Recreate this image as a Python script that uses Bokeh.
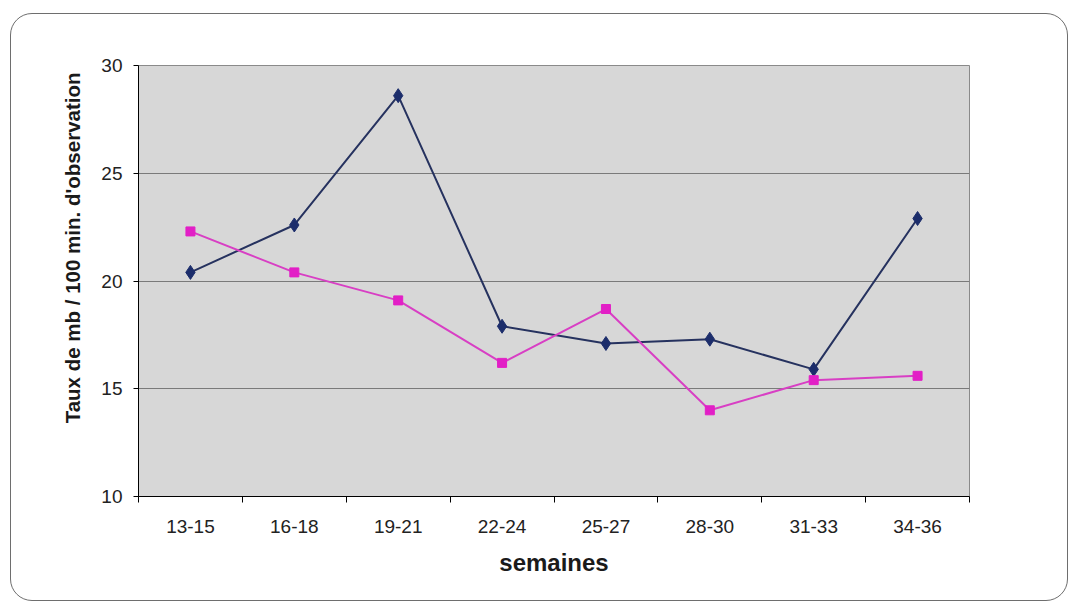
from bokeh.plotting import figure
from bokeh.models import Range1d, FixedTicker, Title, InlineStyleSheet
from bokeh.embed import file_html
from bokeh.resources import INLINE

# Week groups and the two observed rates (per 100 min of observation)
weeks = ["13-15", "16-18", "19-21", "22-24", "25-27", "28-30", "31-33", "34-36"]
rate_blue = [20.4, 22.6, 28.6, 17.9, 17.1, 17.3, 15.9, 22.9]
rate_pink = [22.3, 20.4, 19.1, 16.2, 18.7, 14.0, 15.4, 15.6]
y_ticks = [10, 15, 20, 25, 30]

FONT = "Liberation Sans"

# each week group sits in the middle of its own unit-wide slot
centers = [i + 0.5 for i in range(len(weeks))]
bounds = list(range(len(weeks) + 1))

p = figure(
    width=1070, height=603,
    x_range=Range1d(0, len(weeks)), y_range=Range1d(y_ticks[0], y_ticks[-1]),
    output_backend="svg", toolbar_location=None,
    min_border_left=138, min_border_right=101,
    min_border_top=65, min_border_bottom=107,
)
p.background_fill_color = "#d7d7d7"
p.border_fill_color = "white"
p.outline_line_color = "#8a8a8a"
p.outline_line_width = 1

# rounded frame drawn around the whole chart area
p.stylesheets = [InlineStyleSheet(css="""
:host { position: relative; }
:host::after {
  content: "";
  position: absolute;
  left: 10px; top: 13px; right: 2px; bottom: 2px;
  border: 1.5px solid #6e6e6e;
  border-radius: 22px;
  pointer-events: none;
}
""")]

# horizontal grid only
p.xgrid.visible = False
p.ygrid.ticker = FixedTicker(ticks=y_ticks)
p.ygrid.grid_line_color = "#7a7a7a"
p.ygrid.grid_line_width = 1

# x axis: ticks on slot boundaries, labels in slot centres
xa = p.xaxis[0]
xa.ticker = FixedTicker(ticks=centers, minor_ticks=bounds)
xa.major_label_overrides = {c: w for c, w in zip(centers, weeks)}
xa.major_tick_line_color = None
xa.minor_tick_in = 0
xa.minor_tick_out = 6
xa.minor_tick_line_color = "black"
xa.axis_line_color = "black"
xa.major_label_text_font = FONT
xa.major_label_text_font_size = "19px"
xa.major_label_text_color = "#222222"
xa.major_label_standoff = 17
xa.axis_label = "semaines"
xa.axis_label_text_font = FONT
xa.axis_label_text_font_style = "bold"
xa.axis_label_text_font_size = "24px"
xa.axis_label_text_color = "#1a1a1a"
xa.axis_label_standoff = 13

ya = p.yaxis[0]
ya.ticker = FixedTicker(ticks=y_ticks)
ya.minor_tick_line_color = None
ya.major_tick_in = 0
ya.major_tick_out = 5
ya.major_tick_line_color = "black"
ya.axis_line_color = "black"
ya.major_label_text_font = FONT
ya.major_label_text_font_size = "19px"
ya.major_label_text_color = "#222222"
ya.major_label_standoff = 11

# y title, anchored near the top of the axis
p.add_layout(Title(
    text="Taux de mb / 100 min. d'observation", align="right", offset=7,
    text_font=FONT, text_font_style="bold", text_font_size="20.5px",
    text_color="#1a1a1a", standoff=29,
), "left")

# the two series
p.line(centers, rate_blue, line_color="#26325f", line_width=2)
p.scatter(centers, rate_blue, marker="diamond", size=14,
          fill_color="#1c2d6b", line_color="#1c2d6b")
p.line(centers, rate_pink, line_color="#d83fc4", line_width=2)
p.scatter(centers, rate_pink, marker="square", size=9,
          fill_color="#e21fc6", line_color="#e21fc6")

open("out.html", "w").write(file_html(p, INLINE))
